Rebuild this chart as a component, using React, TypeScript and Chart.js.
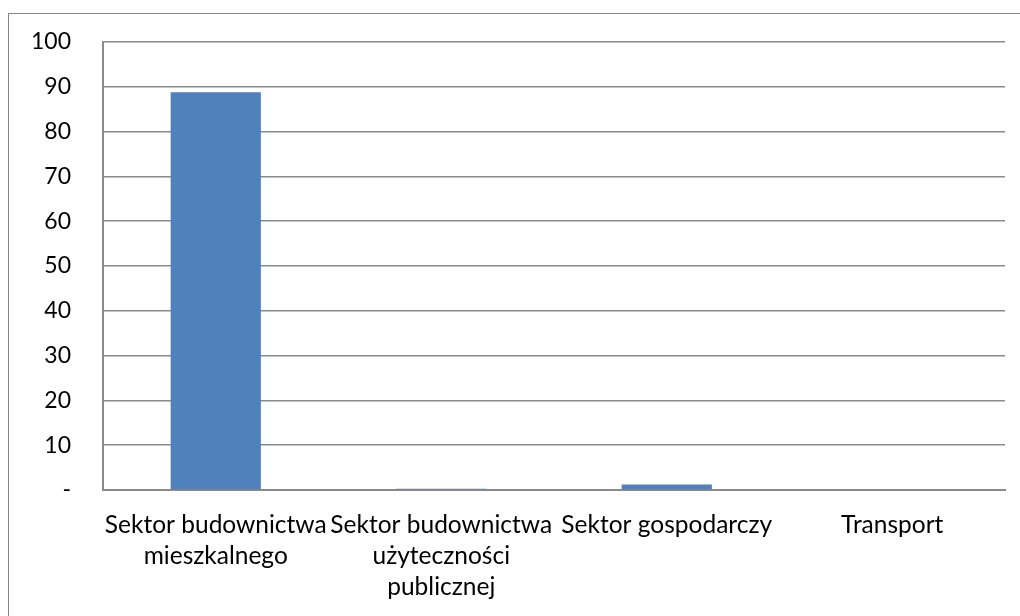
import React, { useEffect, useRef } from "react";
import { Chart, registerables } from "chart.js";

Chart.register(...registerables);

const categories: string[][] = [
  ["Sektor budownictwa", "mieszkalnego"],
  ["Sektor budownictwa", "użyteczności", "publicznej"],
  ["Sektor gospodarczy"],
  ["Transport"],
];
const values: number[] = [88.8, 0.3, 1.2, 0];
const yTicks: number[] = [0, 10, 20, 30, 40, 50, 60, 70, 80, 90, 100];

export default function App() {
  const ref = useRef<HTMLCanvasElement | null>(null);
  useEffect(() => {
    if (!ref.current) return;
    const chart = new Chart(ref.current, {
      type: "bar",
      data: {
        labels: categories,
        datasets: [
          {
            data: values,
            backgroundColor: "#4F81BD",
            borderWidth: 0,
            barPercentage: 0.4,
            categoryPercentage: 1,
          },
        ],
      },
      options: {
        animation: false,
        responsive: false,
        layout: { padding: { left: 0, right: 15, top: 42, bottom: 0 } },
        plugins: { legend: { display: false }, tooltip: { enabled: false } },
        scales: {
          x: {
            grid: { display: false, drawTicks: false },
            border: { display: true, color: "#8a8a8a", width: 2 },
            ticks: {
              color: "#000",
              font: { family: "Lato", size: 24.5, lineHeight: 1.26 },
              padding: 20,
              maxRotation: 0,
              autoSkip: false,
            },
            afterFit: (s: any) => {
              s.height = 126;
            },
          },
          y: {
            min: 0,
            max: 100,
            afterBuildTicks: (s: any) => {
              s.ticks = yTicks.map((v) => ({ value: v }));
            },
            grid: { color: "#8a8a8a", lineWidth: 1.5, drawTicks: false },
            border: { display: true, color: "#8a8a8a", width: 2 },
            ticks: {
              color: "#000",
              font: { family: "Lato", size: 23 },
              padding: 32,
              callback: (v: any) => (Number(v) === 0 ? "-" : String(v)),
            },
            afterFit: (s: any) => {
              s.width = 103;
              s.paddingTop = 0;
              s.paddingBottom = 0;
            },
          },
        },
      },
    });
    return () => chart.destroy();
  }, []);
  return (
    <div
      style={{
        position: "fixed",
        left: 0,
        top: 0,
        width: 1020,
        height: 616,
        overflow: "hidden",
        background: "#fff",
      }}
    >
      <div
        style={{
          position: "absolute",
          left: 8,
          top: 13,
          width: 1040,
          height: 640,
          border: "1.5px solid #888",
        }}
      />
      <canvas
        ref={ref}
        width={1020}
        height={616}
        style={{ position: "absolute", left: 0, top: 0 }}
      />
    </div>
  );
}
